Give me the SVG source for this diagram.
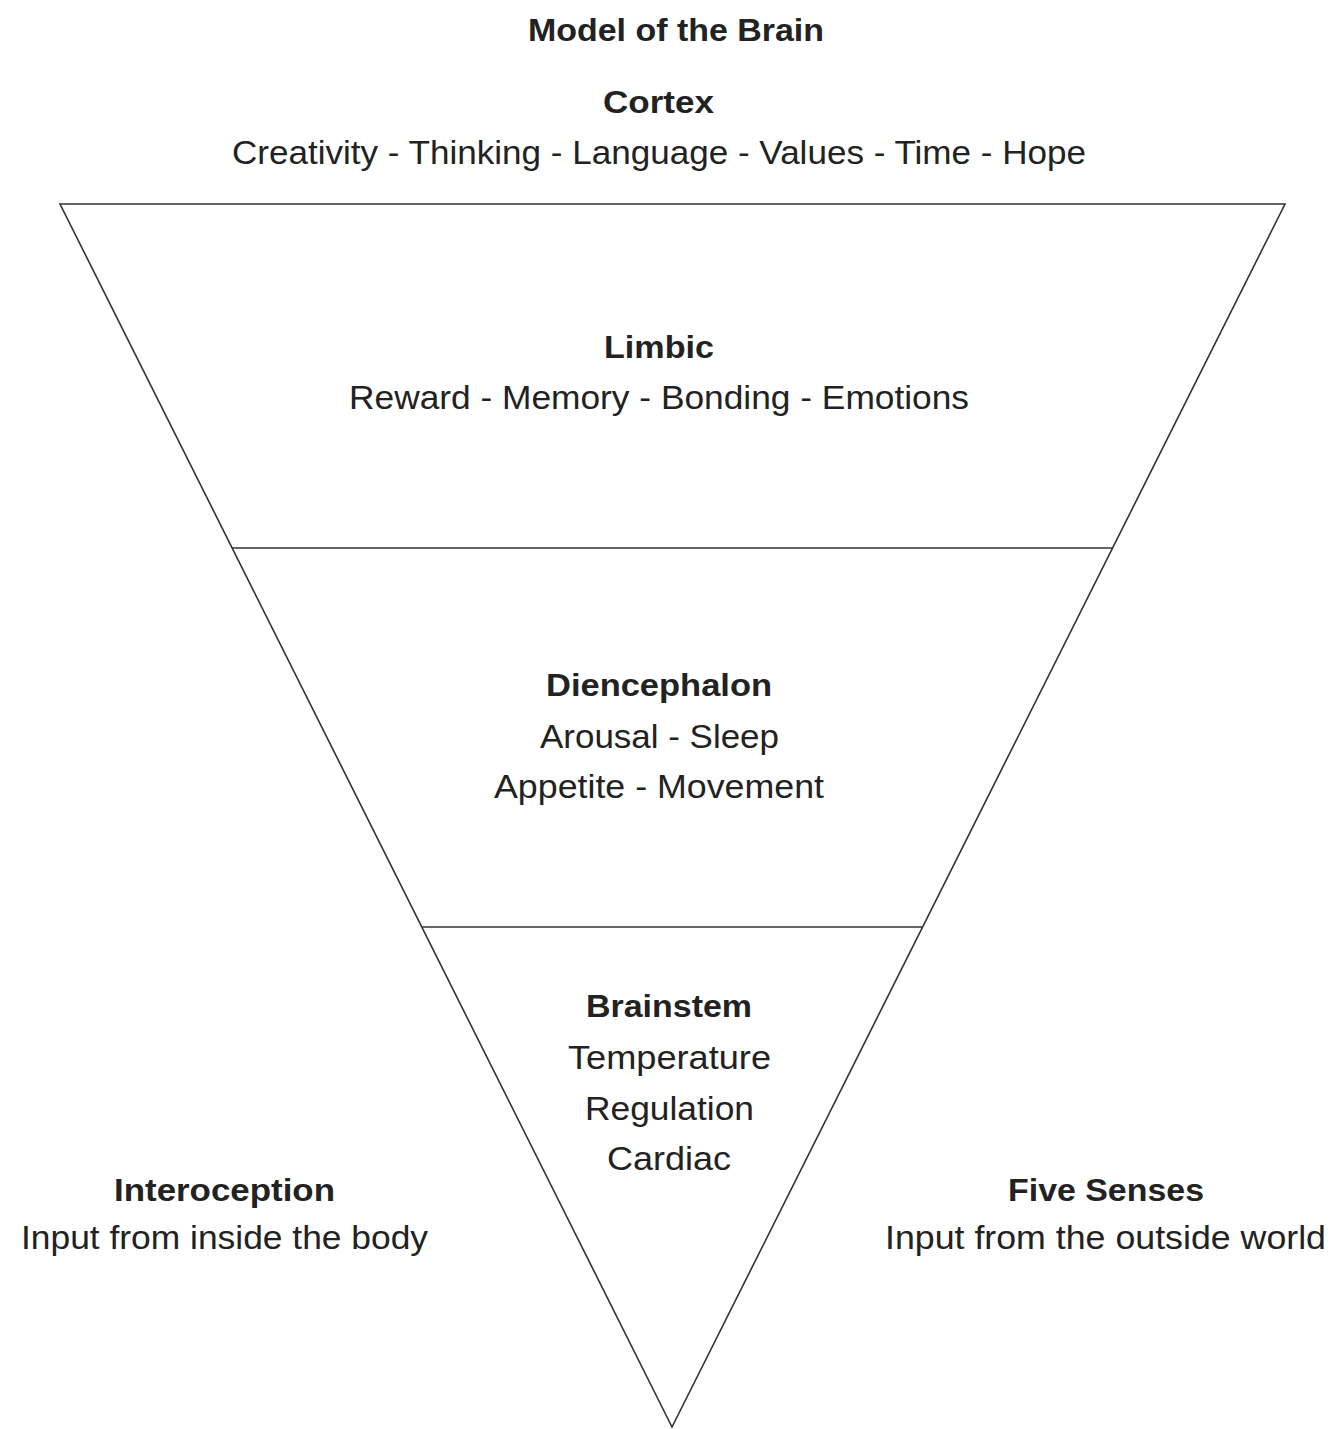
<svg xmlns="http://www.w3.org/2000/svg" width="1333" height="1429" viewBox="0 0 1333 1429">
<style>
text{font-family:"Liberation Sans",Arial,sans-serif;fill:#222;text-anchor:middle}
.b{font-weight:bold;font-size:32px}
.r{font-size:33px}
.ln{stroke:#333;stroke-width:1.6;fill:none}
</style>
<rect width="1333" height="1429" fill="#fff"/>
<g id="title"><text class="b" x="676" y="41" textLength="296" lengthAdjust="spacingAndGlyphs">Model of the Brain</text></g>
<g id="connectors">
<polygon class="ln" points="60,204 1285,204 672,1427"/>
<line class="ln" x1="232" y1="548" x2="1113" y2="548"/>
<line class="ln" x1="422" y1="927" x2="923" y2="927"/>
</g>
<g id="cortex">
<text class="b" x="658.5" y="113" textLength="111" lengthAdjust="spacingAndGlyphs">Cortex</text>
<text class="r" x="659" y="164" textLength="854" lengthAdjust="spacingAndGlyphs">Creativity - Thinking - Language - Values - Time - Hope</text>
</g>
<g id="limbic">
<text class="b" x="659" y="358" textLength="110" lengthAdjust="spacingAndGlyphs">Limbic</text>
<text class="r" x="659" y="409" textLength="620" lengthAdjust="spacingAndGlyphs">Reward - Memory - Bonding - Emotions</text>
</g>
<g id="diencephalon">
<text class="b" x="659" y="696" textLength="226" lengthAdjust="spacingAndGlyphs">Diencephalon</text>
<text class="r" x="659.5" y="748" textLength="239" lengthAdjust="spacingAndGlyphs">Arousal - Sleep</text>
<text class="r" x="659" y="798" textLength="330" lengthAdjust="spacingAndGlyphs">Appetite - Movement</text>
</g>
<g id="brainstem">
<text class="b" x="669" y="1017" textLength="166" lengthAdjust="spacingAndGlyphs">Brainstem</text>
<text class="r" x="669.5" y="1069" textLength="203" lengthAdjust="spacingAndGlyphs">Temperature</text>
<text class="r" x="669.5" y="1120" textLength="169" lengthAdjust="spacingAndGlyphs">Regulation</text>
<text class="r" x="669" y="1170" textLength="124" lengthAdjust="spacingAndGlyphs">Cardiac</text>
</g>
<g id="interoception">
<text class="b" x="224.5" y="1201" textLength="221" lengthAdjust="spacingAndGlyphs">Interoception</text>
<text class="r" x="224.5" y="1249" textLength="407" lengthAdjust="spacingAndGlyphs">Input from inside the body</text>
</g>
<g id="five-senses">
<text class="b" x="1106" y="1201" textLength="196" lengthAdjust="spacingAndGlyphs">Five Senses</text>
<text class="r" x="1105.5" y="1249" textLength="441" lengthAdjust="spacingAndGlyphs">Input from the outside world</text>
</g>
</svg>
